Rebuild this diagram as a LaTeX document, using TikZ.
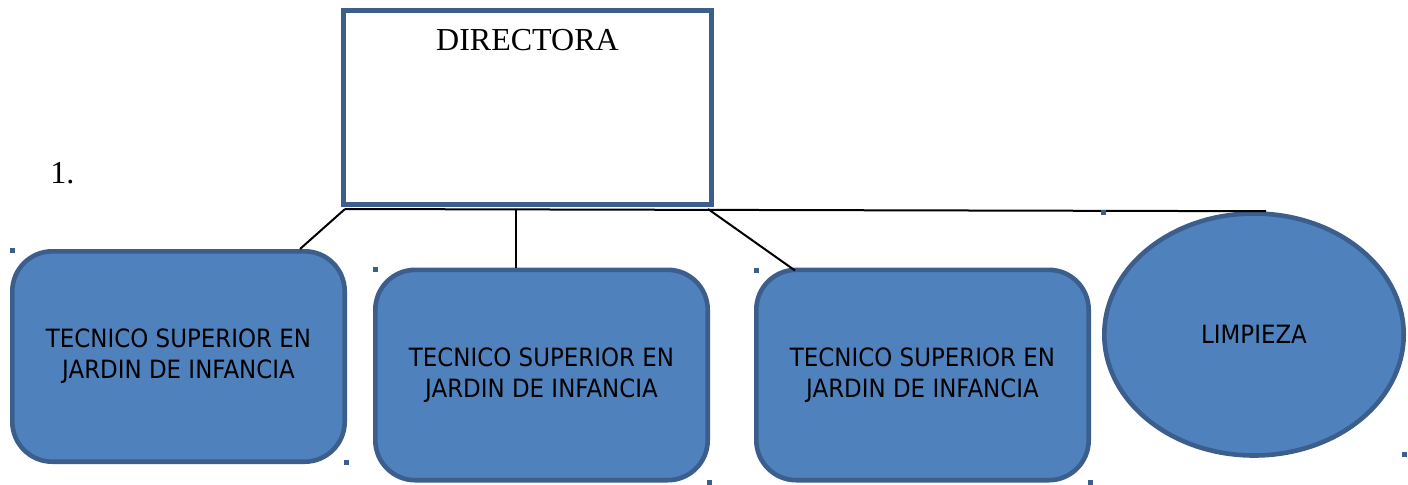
\documentclass[tikz,border=0pt]{standalone}
\usepackage{fontspec}
\setmainfont{Liberation Serif}
\newfontfamily\boxfont[FakeStretch=0.91]{DejaVu Sans}
\usepackage{tikz}
\usetikzlibrary{positioning, shapes.geometric}

\definecolor{cargofill}{HTML}{4F81BD}
\definecolor{cargoline}{HTML}{3B5E8C}

\tikzset{
    jefa/.style={draw=cargoline, line width=2.3pt, fill=white, inner sep=0pt,
        minimum width=184.2pt, minimum height=97.2pt},
    cargo/.style={draw=cargoline, line width=2.3pt, fill=cargofill, rounded corners=20pt,
        minimum width=166.2pt, minimum height=105.2pt, inner sep=0pt, align=center,
        font=\boxfont\fontsize{12.6}{15.5}\selectfont},
    aseo/.style={cargo, ellipse, rounded corners=0pt, minimum width=149.7pt, minimum height=121pt},
    enlace/.style={draw=black, line width=1pt},
    asa/.style={fill=cargoline}
}

\begin{document}
\begin{tikzpicture}[x=0.5pt, y=-0.5pt]
        \useasboundingbox (0,0) rectangle (1408,484);
        \node[jefa, label={[anchor=base, inner sep=0pt, yshift=-21.4pt, font=\fontsize{16}{19}\selectfont]north:DIRECTORA}] (dir) at (527.5,107.5) {};
        \node[anchor=base west, inner sep=0pt, font=\fontsize{16}{19}\selectfont] (num) at (50,183) {1.};
        \node[cargo] (t1) at (178.5,356.5) {TECNICO SUPERIOR EN\\JARDIN DE INFANCIA};
        \node[cargo] (t2) at (541.5,375) {TECNICO SUPERIOR EN\\JARDIN DE INFANCIA};
        \node[cargo] (t3) at (922.5,375) {TECNICO SUPERIOR EN\\JARDIN DE INFANCIA};
        \node[aseo] (limp) at (1254,334.5) {LIMPIEZA};
        \coordinate (hub) at ([xshift=2pt, yshift=-1pt]dir.south west);
        \draw[enlace] (hub) -- ([xshift=6pt]limp.north);
        \draw[enlace] (hub) -- ([xshift=-23.5pt]t1.north east);
        \draw[enlace] ([xshift=-12.75pt]t2.north |- hub) -- ([xshift=-12.75pt]t2.north);
        \draw[enlace] ([xshift=-3pt, yshift=-1pt]dir.south east) -- ([xshift=20.5pt, yshift=-1.5pt]t3.north west);
        % asas de seleccion
        \foreach \hx/\hy in {12/250, 346/462, 375/269, 709/482, 756/270, 1090/482, 1103/212, 1404/454}
            \fill[asa] (\hx-2.5,\hy-2.5) rectangle ++(5,5);
    \end{tikzpicture}
\end{document}
